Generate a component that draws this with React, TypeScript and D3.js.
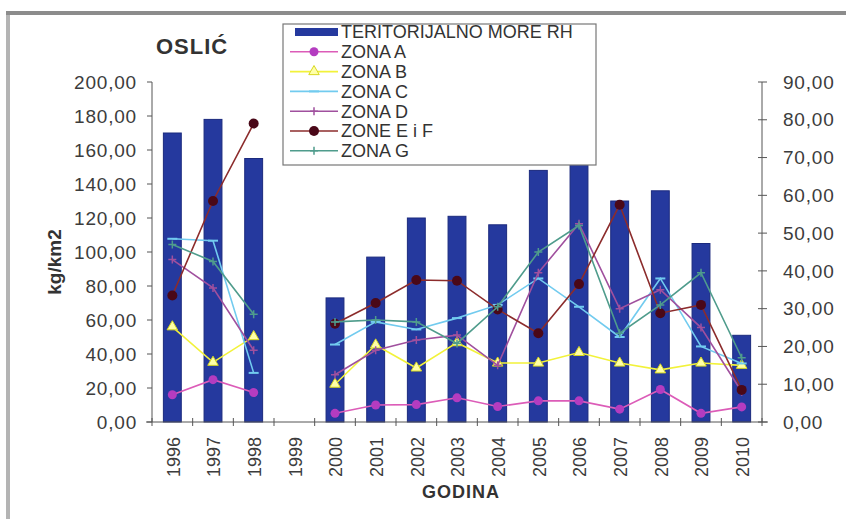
import { useEffect, useRef } from 'react';
import * as d3 from 'd3';

const years = ['1996', '1997', '1998', '1999', '2000', '2001', '2002', '2003', '2004', '2005', '2006', '2007', '2008', '2009', '2010'];

// kg/km2, left axis
const teritorijalnoMore = [170, 178, 155, null, 73, 97, 120, 121, 116, 148, 152, 130, 136, 105, 51];

// zones, right axis
const zonaA = [7.2, 11.2, 7.8, null, 2.3, 4.5, 4.6, 6.4, 4.1, 5.6, 5.6, 3.4, 8.6, 2.3, 4.0];
const zonaB = [25.2, 15.8, 22.6, null, 10.0, 20.4, 14.3, 21.0, 15.6, 15.6, 18.4, 15.6, 13.8, 15.6, 15.0];
const zonaC = [48.5, 48.0, 13.0, null, 20.5, 26.5, 24.5, 27.5, 31.0, 38.0, 30.5, 22.5, 38.0, 20.0, 15.5];
const zonaD = [43.0, 35.5, 19.0, null, 12.5, 19.0, 21.7, 23.0, 15.0, 39.5, 52.5, 30.0, 35.0, 25.0, 8.0];
const zoneEiF = [33.5, 58.5, 79.0, null, 26.0, 31.5, 37.6, 37.4, 29.8, 23.5, 36.5, 57.5, 28.8, 31.0, 8.5];
const zonaG = [47.0, 42.5, 28.5, null, 26.5, 27.0, 26.5, 20.8, 30.5, 45.0, 52.0, 23.5, 31.0, 39.5, 17.0];

const leftTicks = [0, 20, 40, 60, 80, 100, 120, 140, 160, 180, 200];
const rightTicks = [0, 10, 20, 30, 40, 50, 60, 70, 80, 90];

const series = [
  { name: 'ZONA A', values: zonaA, line: '#dc5cb8', marker: 'circle', mColor: '#b43cc0' },
  { name: 'ZONA B', values: zonaB, line: '#f2f23a', marker: 'triangle', mColor: '#ffffa8' },
  { name: 'ZONA C', values: zonaC, line: '#72cbef', marker: 'dash', mColor: '#72cbef' },
  { name: 'ZONA D', values: zonaD, line: '#a0509e', marker: 'plus', mColor: '#a0509e' },
  { name: 'ZONE E i F', values: zoneEiF, line: '#8c2c2c', marker: 'dot', mColor: '#4a0818' },
  { name: 'ZONA G', values: zonaG, line: '#4f9c8c', marker: 'plus', mColor: '#4f9c8c' },
];

const FONT = "'Liberation Sans', Arial, sans-serif";

export default function App() {
  const svgRef = useRef<SVGSVGElement>(null);

  useEffect(() => {
    const svg = d3.select(svgRef.current);
    svg.selectAll('*').remove();

    const W = 846, H = 519;
    const left = 152, right = 762, top = 82, bottom = 422;

    svg.append('rect').attr('width', W).attr('height', H).attr('fill', '#fff');

    // window frame
    svg.append('rect').attr('x', 6).attr('y', 12).attr('width', 4).attr('height', H - 12).attr('fill', '#b4b4b4');
    svg.append('rect').attr('x', 6).attr('y', 11).attr('width', W - 6).attr('height', 4).attr('fill', '#8c8c8c');

    const x = d3.scaleBand<string>().domain(years).range([left, right]).paddingInner(0.56).paddingOuter(0.28);
    const step = x.step();
    const cx = (y: string) => (x(y) as number) + x.bandwidth() / 2;
    const yL = d3.scaleLinear().domain([0, 200]).range([bottom, top]);
    const yR = d3.scaleLinear().domain([0, 90]).range([bottom, top]);

    // title
    svg.append('text').attr('x', 156).attr('y', 54)
      .attr('font-family', FONT).attr('font-weight', 'bold').attr('font-size', 22)
      .attr('letter-spacing', 1).attr('fill', '#333').text('OSLIĆ');

    // bars
    svg.append('g').selectAll('rect')
      .data(years.map((y, i) => ({ y, v: teritorijalnoMore[i] })).filter(d => d.v != null))
      .join('rect')
      .attr('x', d => x(d.y) as number)
      .attr('y', d => yL(d.v as number))
      .attr('width', x.bandwidth())
      .attr('height', d => bottom - yL(d.v as number))
      .attr('fill', '#25399e')
      .attr('stroke', '#1b2a7e')
      .attr('stroke-width', 1);

    // axes
    const axisColor = '#555';
    svg.append('line').attr('x1', left).attr('x2', left).attr('y1', top).attr('y2', bottom).attr('stroke', axisColor);
    svg.append('line').attr('x1', right).attr('x2', right).attr('y1', top).attr('y2', bottom).attr('stroke', axisColor);
    svg.append('line').attr('x1', left - 6).attr('x2', right + 6).attr('y1', bottom).attr('y2', bottom).attr('stroke', axisColor);

    leftTicks.forEach(t => {
      const yy = yL(t);
      svg.append('line').attr('x1', left - 5).attr('x2', left).attr('y1', yy).attr('y2', yy).attr('stroke', axisColor);
      svg.append('text').attr('x', 137).attr('y', yy).attr('dy', '0.35em')
        .attr('text-anchor', 'end').attr('font-family', FONT).attr('font-size', 19)
        .attr('letter-spacing', 0.8).attr('fill', '#3c3c3c')
        .text(d3.format('.2f')(t).replace('.', ','));
    });
    rightTicks.forEach(t => {
      const yy = yR(t);
      svg.append('line').attr('x1', right - 4).attr('x2', right + 5).attr('y1', yy).attr('y2', yy).attr('stroke', axisColor);
      svg.append('text').attr('x', 783).attr('y', yy).attr('dy', '0.35em')
        .attr('font-family', FONT).attr('font-size', 19)
        .attr('letter-spacing', 0.8).attr('fill', '#3c3c3c')
        .text(d3.format('.2f')(t).replace('.', ','));
    });

    // category ticks
    for (let i = 0; i <= years.length; i++) {
      const xx = left + step * i;
      svg.append('line').attr('x1', xx).attr('x2', xx).attr('y1', bottom - 4).attr('y2', bottom + 4).attr('stroke', axisColor);
    }

    years.forEach(y => {
      svg.append('text')
        .attr('transform', `translate(${cx(y) + 1},437) rotate(-90)`)
        .attr('dy', '0.35em').attr('text-anchor', 'end')
        .attr('font-family', FONT).attr('font-size', 18).attr('fill', '#3c3c3c')
        .text(y);
    });

    svg.append('text').attr('x', 461).attr('y', 498).attr('text-anchor', 'middle')
      .attr('font-family', FONT).attr('font-weight', 'bold').attr('font-size', 18)
      .attr('letter-spacing', 1).attr('fill', '#333').text('GODINA');

    svg.append('text').attr('transform', 'translate(54,262) rotate(-90)')
      .attr('dy', '0.35em').attr('text-anchor', 'middle')
      .attr('font-family', FONT).attr('font-weight', 'bold').attr('font-size', 19)
      .attr('fill', '#333').text('kg/km2');

    // markers
    const drawMarker = (g: d3.Selection<SVGGElement, unknown, null, undefined>, kind: string, px: number, py: number, color: string) => {
      if (kind === 'circle') {
        g.append('circle').attr('cx', px).attr('cy', py).attr('r', 4.5).attr('fill', color);
      } else if (kind === 'dot') {
        g.append('circle').attr('cx', px).attr('cy', py).attr('r', 5).attr('fill', color);
      } else if (kind === 'triangle') {
        g.append('path').attr('d', d3.symbol(d3.symbolTriangle, 48)()!)
          .attr('transform', `translate(${px},${py})`)
          .attr('fill', color).attr('stroke', '#d8d820').attr('stroke-width', 1);
      } else if (kind === 'dash') {
        g.append('line').attr('x1', px - 5).attr('x2', px + 5).attr('y1', py).attr('y2', py)
          .attr('stroke', color).attr('stroke-width', 2);
      } else if (kind === 'plus') {
        g.append('path').attr('d', `M${px - 4},${py}H${px + 4}M${px},${py - 4}V${py + 4}`)
          .attr('stroke', color).attr('stroke-width', 1.5);
      }
    };

    const lineGen = d3.line<[string, number | null]>()
      .defined(d => d[1] != null)
      .x(d => cx(d[0]))
      .y(d => yR(d[1] as number));

    series.forEach(s => {
      const g = svg.append('g');
      const pts: [string, number | null][] = years.map((y, i) => [y, s.values[i]]);
      g.append('path').datum(pts).attr('d', lineGen)
        .attr('fill', 'none').attr('stroke', s.line).attr('stroke-width', 1.6);
      pts.forEach(p => {
        if (p[1] == null) return;
        drawMarker(g, s.marker, cx(p[0]), yR(p[1]), s.mColor);
      });
    });

    // legend
    const lg = svg.append('g');
    lg.append('rect').attr('x', 283).attr('y', 24).attr('width', 313).attr('height', 141)
      .attr('fill', '#fff').attr('stroke', '#777').attr('stroke-width', 1.2);
    const rowY = (i: number) => 32 + i * 19.8;
    lg.append('rect').attr('x', 295).attr('y', rowY(0) - 4).attr('width', 43).attr('height', 8).attr('fill', '#25399e');
    lg.append('text').attr('x', 341).attr('y', rowY(0)).attr('dy', '0.35em')
      .attr('font-family', FONT).attr('font-size', 18).attr('fill', '#333').text('TERITORIJALNO MORE RH');
    series.forEach((s, i) => {
      const yy = rowY(i + 1);
      lg.append('line').attr('x1', 290).attr('x2', 338).attr('y1', yy).attr('y2', yy)
        .attr('stroke', s.line).attr('stroke-width', 1.6);
      drawMarker(lg, s.marker, 314, yy, s.mColor);
      lg.append('text').attr('x', 341).attr('y', yy).attr('dy', '0.35em')
        .attr('font-family', FONT).attr('font-size', 18).attr('fill', '#333').text(s.name);
    });
  }, []);

  return (
    <svg ref={svgRef} width={846} height={519} style={{ position: 'absolute', left: 0, top: 0, display: 'block' }} />
  );
}
